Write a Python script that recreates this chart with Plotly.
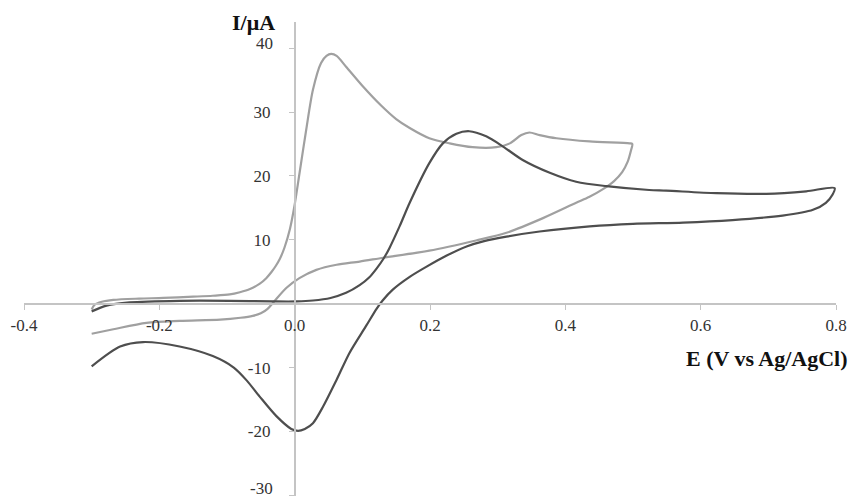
import plotly.graph_objects as go

# Tick definitions
x_ticks = [-0.4, -0.2, 0.0, 0.2, 0.4, 0.6, 0.8]
x_ticktext = ["-0.4", "-0.2", "0.0", "0.2", "0.4", "0.6", "0.8"]
y_ticks = [-30, -20, -10, 10, 20, 30, 40]
y_ticktext = ["-30", "-20", "-10", "10", "20", "30", "40"]
y_edge_ticks = [-30, 40]   # edge labels nudged upwards, as in the original

x_range = [-0.4, 0.8]
y_range = [-30.1, 44.1]

# Light-grey voltammogram
gray_E = [-0.300, -0.296, -0.285, -0.268, -0.230, -0.194, -0.150, -0.121, -0.096, -0.081, -0.066,
          -0.052, -0.042, -0.034, -0.028, -0.022, -0.015, -0.007, 0.000, 0.007, 0.017, 0.027,
          0.039, 0.047, 0.054, 0.062, 0.076, 0.101, 0.127, 0.150, 0.170, 0.199, 0.229, 0.263,
          0.298, 0.318, 0.335, 0.347, 0.362, 0.387, 0.436, 0.495, 0.499,
          0.497, 0.492, 0.484, 0.472, 0.455, 0.435, 0.416, 0.367, 0.313, 0.268, 0.199, 0.131,
          0.096, 0.062, 0.032, 0.007, -0.012, -0.030, -0.040, -0.050, -0.062, -0.080, -0.110,
          -0.170, -0.219, -0.268, -0.300]
gray_I = [-0.9, -0.2, 0.3, 0.6, 0.8, 0.9, 1.1, 1.25, 1.45, 1.8, 2.3,
          3.1, 4.0, 5.0, 5.9, 7.0, 8.8, 11.7, 15.5, 20.3, 27.2, 33.5,
          37.7, 38.8, 39.1, 38.8, 37.1, 34.0, 31.1, 28.9, 27.5, 25.9, 25.1, 24.5,
          24.5, 25.1, 26.4, 26.8, 26.4, 25.9, 25.4, 25.1, 25.0,
          24.0, 22.2, 20.6, 19.2, 17.9, 16.7, 15.8, 13.4, 11.1, 9.9, 8.3, 7.2,
          6.6, 6.1, 5.3, 4.0, 2.5, 0.4, -0.8, -1.5, -1.9, -2.2, -2.5,
          -2.7, -3.0, -4.0, -4.7]

# Dark voltammogram
dark_E = [-0.300, -0.278, -0.244, -0.170, -0.096, -0.032, 0.003, 0.027, 0.053, 0.076, 0.096,
          0.110, 0.121, 0.131, 0.140, 0.155, 0.170, 0.199, 0.219, 0.239, 0.258, 0.283, 0.308,
          0.337, 0.377, 0.416, 0.461, 0.524, 0.549, 0.623, 0.697, 0.756, 0.798,
          0.795, 0.785, 0.766, 0.721, 0.647, 0.574, 0.500, 0.436, 0.362, 0.313, 0.280, 0.255,
          0.224, 0.195, 0.170, 0.145, 0.130, 0.121, 0.106, 0.081, 0.062, 0.042, 0.027, 0.015,
          0.005, -0.005, -0.027, -0.052, -0.071, -0.090, -0.121, -0.170, -0.224, -0.258, -0.300]
dark_I = [-1.2, -0.3, 0.2, 0.45, 0.45, 0.36, 0.36, 0.5, 0.9, 1.7, 2.9,
          4.1, 5.5, 7.0, 8.7, 12.1, 15.8, 22.0, 25.1, 26.6, 27.0, 26.2, 24.6,
          22.5, 20.5, 19.1, 18.4, 17.8, 17.7, 17.3, 17.2, 17.6, 18.1,
          17.1, 15.8, 14.7, 13.8, 13.1, 12.7, 12.5, 12.1, 11.3, 10.5, 9.8, 9.0,
          7.5, 5.8, 4.2, 2.2, 0.5, -0.8, -3.4, -7.7, -11.9, -16.1, -18.7, -19.6,
          -19.9, -19.6, -17.6, -14.5, -12.0, -10.0, -8.2, -6.7, -6.0, -6.7, -9.8]

fig = go.Figure()
fig.add_trace(go.Scatter(x=gray_E, y=gray_I, mode="lines",
                         line=dict(color="#a0a0a0", width=2.2, shape="spline", smoothing=0.8),
                         showlegend=False, hoverinfo="skip"))
fig.add_trace(go.Scatter(x=dark_E, y=dark_I, mode="lines",
                         line=dict(color="#4e4e4e", width=2.2, shape="spline", smoothing=0.8),
                         showlegend=False, hoverinfo="skip"))

xpos = (0 - y_range[0]) / (y_range[1] - y_range[0])
ypos = (0 - x_range[0]) / (x_range[1] - x_range[0])

serif = "Liberation Serif, Times New Roman, serif"
tickfont = dict(family=serif, size=17, color="#333333")

# edge labels are drawn as annotations (nudged up), others as axis tick labels
axis_ticktext = ["" if v in y_edge_ticks else t for v, t in zip(y_ticks, y_ticktext)]
edge_annotations = [
    dict(text=t, xref="x", x=0, yref="y", y=v, xanchor="right", yanchor="middle",
         xshift=-20, yshift=(7 if v < 0 else 5), showarrow=False, font=tickfont)
    for v, t in zip(y_ticks, y_ticktext) if v in y_edge_ticks
]

fig.update_layout(
    width=852, height=496,
    margin=dict(l=24, r=16, t=22, b=0),
    paper_bgcolor="white", plot_bgcolor="white",
    xaxis=dict(range=x_range, anchor="free", position=xpos, showgrid=False, zeroline=False,
               automargin=False,
               showline=True, linecolor="#c4c4c4", linewidth=1.6,
               ticks="outside", ticklen=5, tickcolor="#c4c4c4", tickwidth=1.3,
               tickvals=x_ticks, ticktext=x_ticktext, tickfont=tickfont,
               ticklabelstandoff=1),
    yaxis=dict(range=y_range, anchor="free", position=ypos, showgrid=False, zeroline=False,
               automargin=False,
               showline=True, linecolor="#c4c4c4", linewidth=1.6,
               ticks="outside", ticklen=5, tickcolor="#c4c4c4", tickwidth=1.3,
               tickvals=y_ticks, ticktext=axis_ticktext, tickfont=tickfont,
               ticklabelstandoff=15),
    annotations=[
        dict(text="<b>I/μA</b>", xref="x", x=0, yref="paper", y=1, xanchor="right",
             yanchor="middle", xshift=-18, yshift=0, showarrow=False,
             font=dict(family=serif, size=22, color="#111111")),
        dict(text="<b>E (V vs Ag/AgCl)</b>", xref="paper", x=1, yref="y", y=0,
             xanchor="right", yanchor="middle", xshift=14, yshift=-55, showarrow=False,
             font=dict(family=serif, size=22, color="#111111")),
    ] + edge_annotations,
)

fig.write_html("out.html", config={"displayModeBar": False},
               post_script="document.body.style.margin='0';document.body.style.overflow='hidden';")
